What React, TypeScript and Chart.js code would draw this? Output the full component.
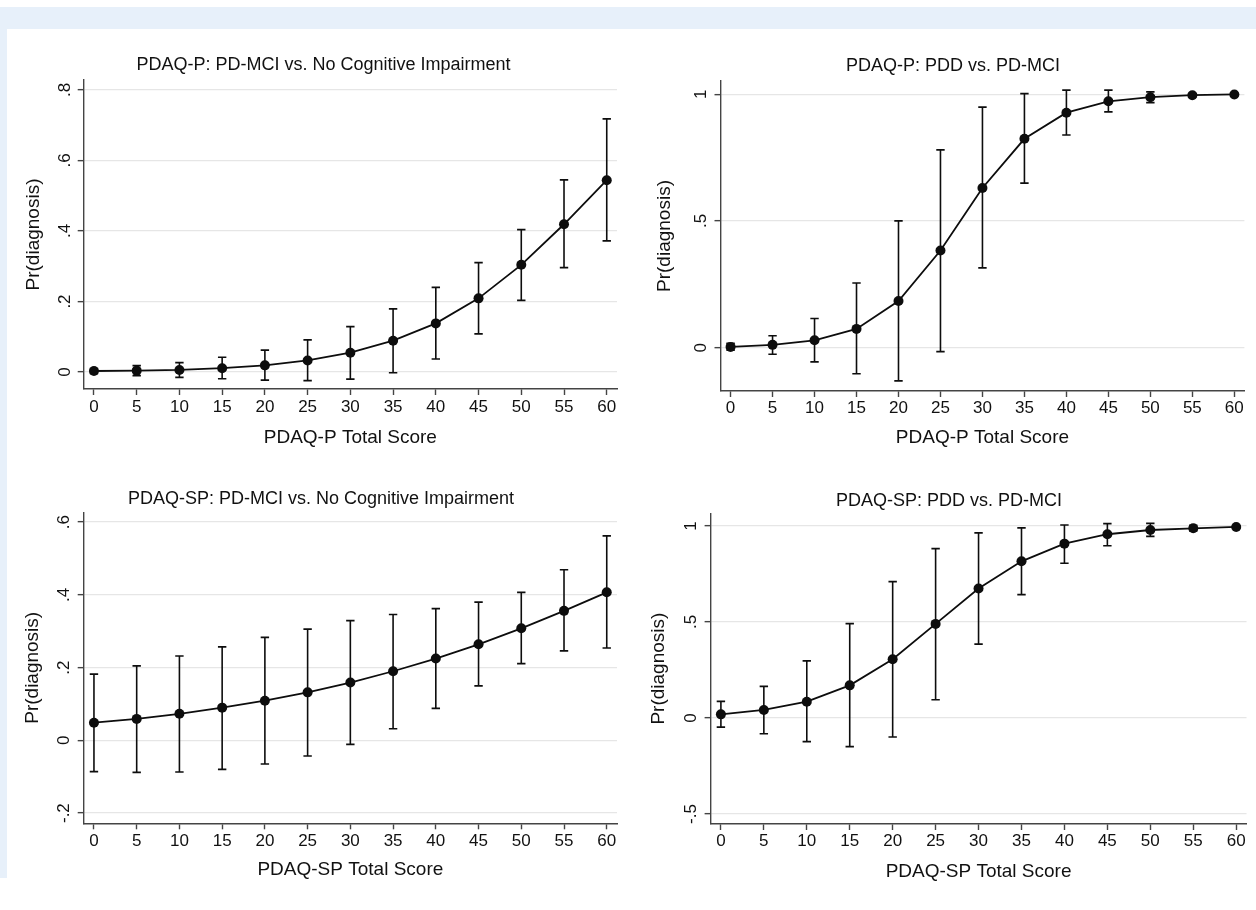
import React, { useEffect, useRef } from 'react';
import { Chart, registerables } from 'chart.js';

Chart.register(...registerables);

// ---------------- DATA ----------------
const scores = [0, 5, 10, 15, 20, 25, 30, 35, 40, 45, 50, 55, 60];
const xTickValues = [0, 5, 10, 15, 20, 25, 30, 35, 40, 45, 50, 55, 60];

// PDAQ-P: PD-MCI vs. No Cognitive Impairment
const p1Est = [0.003, 0.004, 0.006, 0.011, 0.019, 0.033, 0.055, 0.089, 0.138, 0.209, 0.304, 0.419, 0.544];
const p1Lo = [-0.004, -0.010, -0.015, -0.019, -0.023, -0.024, -0.020, -0.002, 0.037, 0.108, 0.203, 0.296, 0.372];
const p1Hi = [0.010, 0.018, 0.027, 0.042, 0.062, 0.091, 0.129, 0.179, 0.240, 0.310, 0.404, 0.545, 0.718];
const p1YTicks = [0, 0.2, 0.4, 0.6, 0.8];

// PDAQ-P: PDD vs. PD-MCI
const p2Est = [0.003, 0.011, 0.029, 0.074, 0.184, 0.383, 0.630, 0.824, 0.927, 0.972, 0.988, 0.996, 0.999];
const p2Lo = [-0.010, -0.026, -0.056, -0.103, -0.131, -0.016, 0.315, 0.649, 0.839, 0.930, 0.967, 0.990, 0.997];
const p2Hi = [0.017, 0.047, 0.115, 0.255, 0.500, 0.780, 0.949, 1.002, 1.016, 1.016, 1.009, 1.002, 1.001];
const p2YTicks = [0, 0.5, 1];

// PDAQ-SP: PD-MCI vs. No Cognitive Impairment
const p3Est = [0.0485, 0.059, 0.073, 0.090, 0.109, 0.132, 0.159, 0.190, 0.225, 0.264, 0.308, 0.356, 0.407];
const p3Lo = [-0.086, -0.088, -0.087, -0.080, -0.065, -0.043, -0.011, 0.032, 0.088, 0.150, 0.211, 0.246, 0.254];
const p3Hi = [0.182, 0.205, 0.232, 0.257, 0.283, 0.306, 0.329, 0.346, 0.362, 0.380, 0.407, 0.469, 0.562];
const p3YTicks = [-0.2, 0, 0.2, 0.4, 0.6];

// PDAQ-SP: PDD vs. PD-MCI
const p4Est = [0.019, 0.042, 0.085, 0.170, 0.306, 0.490, 0.674, 0.816, 0.908, 0.957, 0.979, 0.988, 0.995];
const p4Lo = [-0.047, -0.082, -0.123, -0.149, -0.099, 0.095, 0.385, 0.642, 0.806, 0.897, 0.946, 0.974, 0.990];
const p4Hi = [0.087, 0.165, 0.297, 0.491, 0.710, 0.882, 0.964, 0.990, 1.005, 1.012, 1.014, 1.003, 1.000];
const p4YTicks = [-0.5, 0, 0.5, 1];

const titles = [
  'PDAQ-P: PD-MCI vs. No Cognitive Impairment',
  'PDAQ-P: PDD vs. PD-MCI',
  'PDAQ-SP: PD-MCI vs. No Cognitive Impairment',
  'PDAQ-SP: PDD vs. PD-MCI',
];
const xTitles = ['PDAQ-P Total Score', 'PDAQ-P Total Score', 'PDAQ-SP Total Score', 'PDAQ-SP Total Score'];
const yTitle = 'Pr(diagnosis)';

// ---------------- STYLE / LAYOUT ----------------
const FONT = '"Liberation Sans", Arial, Helvetica, sans-serif';
const TITLE_SIZE = 18;
const AXIS_TITLE_SIZE = 19;
const TICK_SIZE = 17;
const LH = 1.2;
const TL = 6;
const TEXT = '#111111';
const AXIS = '#444444';
const GRID = '#e6e6e6';
const INK = '#0d0d0d';

type Geo = {
  canvas: { left: number; top: number; width: number; height: number };
  ca: { l: number; r: number; t: number; b: number };
  titleCx: number;
  titleCy: number;
  yTitleCx: number;
  yLabelCx: number;
  xLabelCy: number;
  xTitleCy: number;
  xMin: number;
  xMax: number;
  yMin: number;
  yMax: number;
};

const geos: Geo[] = [
  {
    canvas: { left: 8, top: 29, width: 624, height: 424 },
    ca: { l: 83.7, r: 617, t: 80, b: 389 },
    titleCx: 323.5, titleCy: 65.5, yTitleCx: 34, yLabelCx: 65, xLabelCy: 407.5, xTitleCy: 438,
    xMin: -1.2, xMax: 61.2, yMin: -0.048, yMax: 0.828,
  },
  {
    canvas: { left: 632, top: 29, width: 624, height: 424 },
    ca: { l: 720.5, r: 1244.4, t: 81, b: 391 },
    titleCx: 953, titleCy: 66, yTitleCx: 665, yLabelCx: 701, xLabelCy: 408, xTitleCy: 437.5,
    xMin: -1.2, xMax: 61.2, yMin: -0.171, yMax: 1.052,
  },
  {
    canvas: { left: 8, top: 453, width: 624, height: 457 },
    ca: { l: 83.7, r: 617, t: 512.3, b: 823.3 },
    titleCx: 321, titleCy: 499.5, yTitleCx: 33, yLabelCx: 64.5, xLabelCy: 841, xTitleCy: 870,
    xMin: -1.2, xMax: 61.2, yMin: -0.228, yMax: 0.627,
  },
  {
    canvas: { left: 632, top: 453, width: 624, height: 457 },
    ca: { l: 710.6, r: 1246.5, t: 513.3, b: 824 },
    titleCx: 949, titleCy: 501, yTitleCx: 659, yLabelCx: 691, xLabelCy: 841.5, xTitleCy: 871.5,
    xMin: -1.2, xMax: 61.2, yMin: -0.552, yMax: 1.066,
  },
];

type PanelData = { est: number[]; lo: number[]; hi: number[]; yTicks: number[] };
const panels: PanelData[] = [
  { est: p1Est, lo: p1Lo, hi: p1Hi, yTicks: p1YTicks },
  { est: p2Est, lo: p2Lo, hi: p2Hi, yTicks: p2YTicks },
  { est: p3Est, lo: p3Lo, hi: p3Hi, yTicks: p3YTicks },
  { est: p4Est, lo: p4Lo, hi: p4Hi, yTicks: p4YTicks },
];

function fmt(v: number): string {
  const r = Math.round(v * 1000) / 1000;
  return String(r).replace(/^(-?)0\./, '$1.');
}

function measureWidest(labels: string[], size: number): number {
  const c = document.createElement('canvas');
  const ctx = c.getContext('2d');
  if (!ctx) return 0;
  ctx.font = `${size}px ${FONT}`;
  return Math.max(...labels.map((l) => ctx.measureText(l).width));
}

function buildConfig(idx: number): any {
  const g = geos[idx];
  const p = panels[idx];
  const lhT = TITLE_SIZE * LH;
  const lhA = AXIS_TITLE_SIZE * LH;
  const lhK = TICK_SIZE * LH;

  const a = 2 * g.titleCx - g.ca.r;
  const padL = a - g.canvas.left;
  const padR = g.canvas.left + g.canvas.width - g.ca.r;
  const yW = g.ca.l - a;
  const yTitlePad = g.yTitleCx - a - lhA / 2;
  const widest = measureWidest(p.yTicks.map(fmt), TICK_SIZE);
  const yTickPad = g.ca.l - TL - widest / 2 - g.yLabelCx;
  const tpTop = g.titleCy - g.canvas.top - lhT / 2;
  const tpBottom = g.ca.t - g.canvas.top - tpTop - lhT;
  const xH = g.canvas.top + g.canvas.height - g.ca.b;
  const xTitlePad = g.ca.b + xH - lhA / 2 - g.xTitleCy;
  const xTickPad = g.xLabelCy - g.ca.b - TL - lhK / 2;

  const estData = scores.map((x, i) => ({ x, y: p.est[i] }));
  const whiskerData: { x: number; y: number | null }[] = [];
  const capData: { x: number; y: number }[] = [];
  scores.forEach((x, i) => {
    whiskerData.push({ x, y: p.lo[i] }, { x, y: p.hi[i] }, { x, y: null });
    capData.push({ x, y: p.lo[i] }, { x, y: p.hi[i] });
  });

  const tickFont = { family: FONT, size: TICK_SIZE, lineHeight: LH };
  const axisTitleFont = { family: FONT, size: AXIS_TITLE_SIZE, lineHeight: LH };

  return {
    type: 'scatter',
    data: {
      datasets: [
        {
          label: 'estimate',
          data: estData,
          showLine: true,
          borderColor: INK,
          borderWidth: 1.8,
          pointRadius: 5,
          pointBackgroundColor: INK,
          pointBorderColor: INK,
          pointBorderWidth: 0,
          tension: 0,
          order: 0,
        },
        {
          label: 'caps',
          data: capData,
          showLine: false,
          pointStyle: 'line',
          pointRadius: 4.2,
          pointBorderColor: INK,
          pointBorderWidth: 1.7,
          order: 1,
        },
        {
          label: 'ci',
          data: whiskerData,
          showLine: true,
          spanGaps: false,
          borderColor: INK,
          borderWidth: 1.6,
          pointRadius: 0,
          order: 2,
        },
      ],
    },
    options: {
      responsive: false,
      animation: false,
      events: [],
      layout: { autoPadding: false, padding: { left: padL, right: padR, top: 0, bottom: 0 } },
      plugins: {
        legend: { display: false },
        tooltip: { enabled: false },
        title: {
          display: true,
          text: titles[idx],
          color: TEXT,
          font: { family: FONT, size: TITLE_SIZE, weight: 'normal', lineHeight: LH },
          padding: { top: tpTop, bottom: tpBottom },
        },
      },
      scales: {
        x: {
          type: 'linear',
          min: g.xMin,
          max: g.xMax,
          afterBuildTicks: (s: any) => {
            s.ticks = xTickValues.map((v) => ({ value: v }));
          },
          afterFit: (s: any) => {
            s.height = xH;
          },
          ticks: {
            font: tickFont,
            color: TEXT,
            padding: xTickPad,
            minRotation: 0,
            maxRotation: 0,
            autoSkip: false,
            callback: (v: any) => fmt(Number(v)),
          },
          grid: { drawOnChartArea: false, drawTicks: true, tickLength: TL, tickColor: AXIS, tickWidth: 1.4 },
          border: { display: true, color: AXIS, width: 1.4 },
          title: { display: true, text: xTitles[idx], color: TEXT, font: axisTitleFont, padding: { top: 0, bottom: xTitlePad } },
        },
        y: {
          type: 'linear',
          min: g.yMin,
          max: g.yMax,
          afterBuildTicks: (s: any) => {
            s.ticks = p.yTicks.map((v) => ({ value: v }));
          },
          afterFit: (s: any) => {
            s.width = yW;
          },
          ticks: {
            font: tickFont,
            color: TEXT,
            padding: yTickPad,
            minRotation: 90,
            maxRotation: 90,
            crossAlign: 'center',
            autoSkip: false,
            callback: (v: any) => fmt(Number(v)),
          },
          grid: { color: GRID, lineWidth: 1.3, drawTicks: true, tickLength: TL, tickColor: AXIS, tickWidth: 1.4 },
          border: { display: true, color: AXIS, width: 1.4 },
          title: { display: true, text: yTitle, color: TEXT, font: axisTitleFont, padding: { top: yTitlePad, bottom: 0 } },
        },
      },
    },
  };
}

function Panel({ idx }: { idx: number }) {
  const ref = useRef<HTMLCanvasElement | null>(null);
  const g = geos[idx];
  useEffect(() => {
    if (!ref.current) return;
    const chart = new Chart(ref.current, buildConfig(idx));
    return () => chart.destroy();
  }, [idx]);
  return (
    <canvas
      ref={ref}
      width={g.canvas.width}
      height={g.canvas.height}
      style={{
        position: 'absolute',
        left: g.canvas.left,
        top: g.canvas.top,
        width: g.canvas.width,
        height: g.canvas.height,
      }}
    />
  );
}

export default function App() {
  return (
    <div
      style={{
        position: 'absolute',
        left: 0,
        top: 0,
        width: 1256,
        height: 910,
        background: '#ffffff',
        overflow: 'hidden',
      }}
    >
      <div style={{ position: 'absolute', left: 0, top: 7, width: 1256, height: 22, background: '#e7f0fa' }} />
      <div style={{ position: 'absolute', left: 0, top: 29, width: 7, height: 849, background: '#e7f0fa' }} />
      {[0, 1, 2, 3].map((i) => (
        <Panel key={i} idx={i} />
      ))}
    </div>
  );
}
